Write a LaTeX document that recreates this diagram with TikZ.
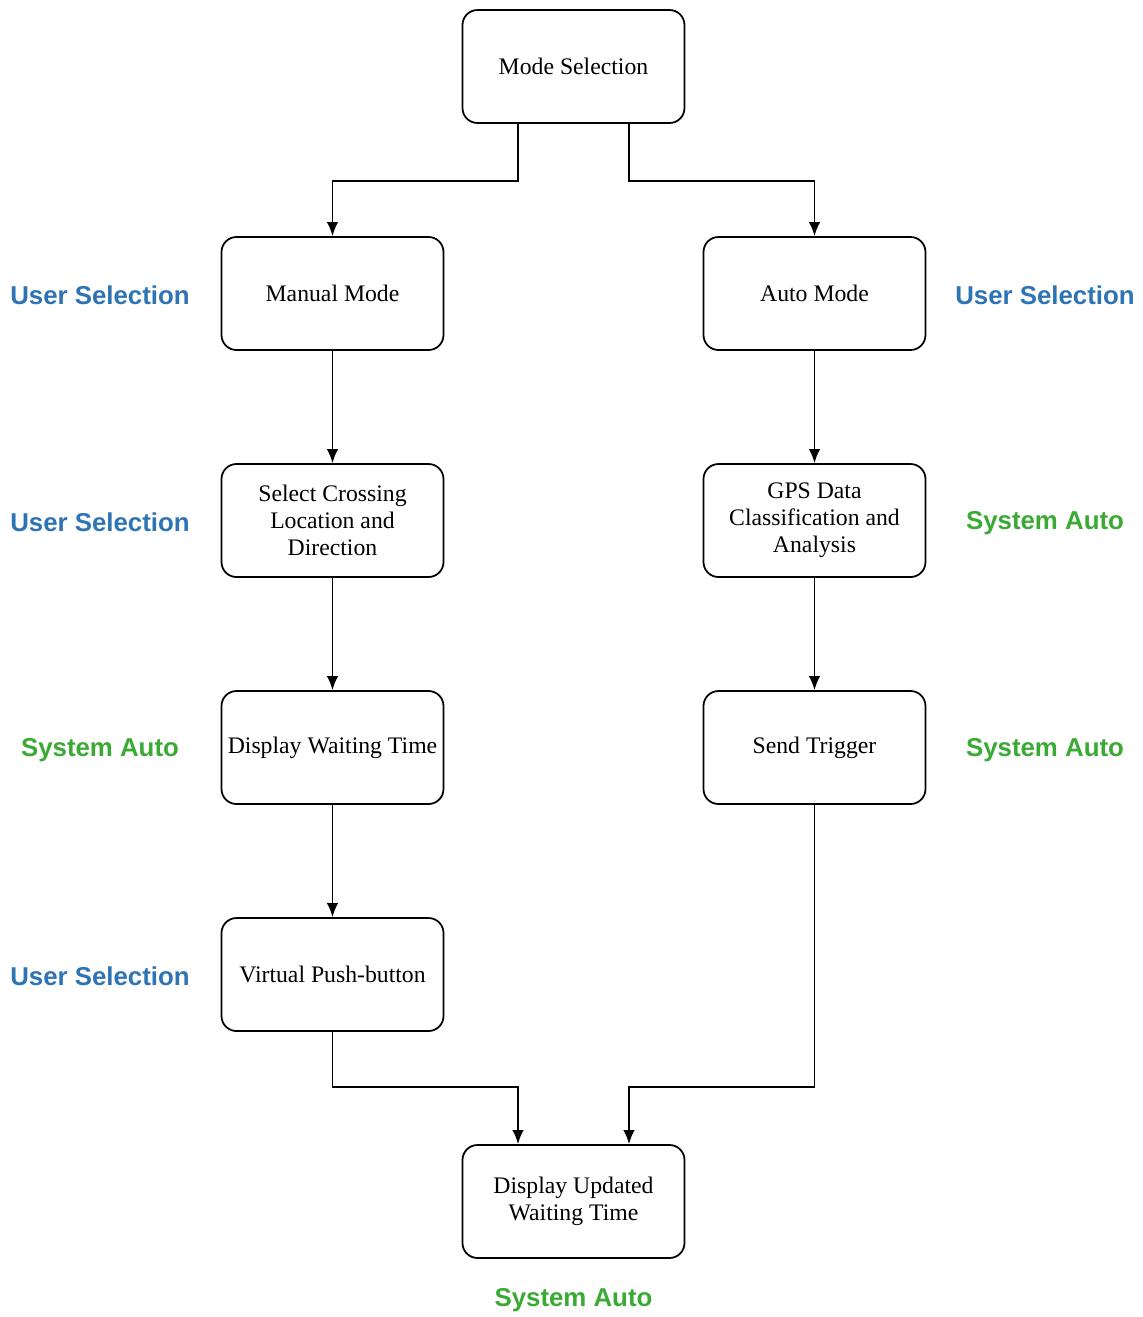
\documentclass[tikz,border=0pt]{standalone}
\usepackage{fontspec}
\setmainfont{Liberation Serif}
\newfontfamily\labelfont{Liberation Sans}
\usepackage{tikz}
\usetikzlibrary{positioning, arrows.meta, calc}

\definecolor{userblue}{HTML}{2E74B5}
\definecolor{autogreen}{HTML}{3AAA35}

\begin{document}
\begin{tikzpicture}[node distance=2.245cm,>={Latex[length=2.8mm,width=2.3mm]},font=\fontsize{13.5}{15.4}\selectfont]
	
	\tikzstyle{box}=[draw=black,line width=1pt,rounded corners=0.3cm,minimum width=4.44cm,minimum height=2.26cm,align=center,inner sep=2pt]
	\tikzstyle{usr}=[font=\labelfont\bfseries\fontsize{14.7}{16}\selectfont,text=userblue]
	\tikzstyle{sys}=[font=\labelfont\bfseries\fontsize{14.7}{16}\selectfont,text=autogreen]
	\tikzstyle{link}=[->,line width=1.1pt]
	
	\useasboundingbox (0,0) rectangle (22.86,-26.34);
	
	\node[box] (mode) at (11.47,-1.33) {Mode Selection};
	\node[box] (manual) at (6.65,-5.87) {Manual Mode};
	\node[box] (auto) at (16.29,-5.87) {Auto Mode};
	\node[box,below=of manual] (select) {Select Crossing\\Location and\\Direction};
	\node[box,below=of select] (wait) {Display Waiting Time};
	\node[box,below=of wait] (push) {Virtual Push-button};
	\node[box,below=of auto] (gps) {GPS Data\\Classification and\\Analysis};
	\node[box,below=of gps] (trigger) {Send Trigger};
	\node[box] (update) at (11.47,-24.03) {Display Updated\\Waiting Time};
	
	% side labels
	\node[usr] (lmanual) at (2.0,-5.9) {User Selection};
	\node[usr] (lselect) at (2.0,-10.44) {User Selection};
	\node[sys] (lwait) at (2.0,-15.0) {System Auto};
	\node[usr] (lpush) at (2.0,-19.52) {User Selection};
	\node[usr] (lauto) at (20.9,-5.9) {User Selection};
	\node[sys] (lgps) at (20.9,-10.47) {System Auto};
	\node[sys] (ltrigger) at (20.9,-15.0) {System Auto};
	\node[sys] (lupdate) at (11.47,-26.0) {System Auto};
	
	\coordinate (split) at ($(mode.south)+(0,-1.14)$);
	\coordinate (join) at ($(update.north)+(0,1.14)$);
	
	\draw[link] ([xshift=-1.11cm]mode.south) -- ([xshift=-1.11cm]split) -| (manual.north);
	\draw[link] ([xshift=1.11cm]mode.south) -- ([xshift=1.11cm]split) -| (auto.north);
	\draw[link] (manual) -- (select);
	\draw[link] (select) -- (wait);
	\draw[link] (wait) -- (push);
	\draw[link] (auto) -- (gps);
	\draw[link] (gps) -- (trigger);
	\draw[link] (push.south) -- (push.south |- join) -| ([xshift=-1.11cm]update.north);
	\draw[link] (trigger.south) -- (trigger.south |- join) -| ([xshift=1.11cm]update.north);
\end{tikzpicture}
\end{document}
